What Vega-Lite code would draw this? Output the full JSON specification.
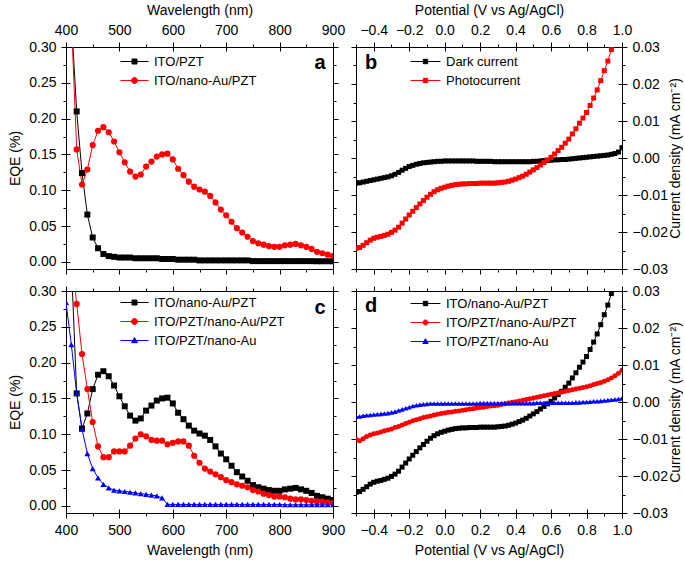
{
"$schema": "https://vega.github.io/schema/vega-lite/v6.json",
"background": "white",
"padding": {"left": 8, "top": 2, "right": 0, "bottom": 0},
"bounds": "flush",
"columns": 2,
"spacing": {"row": 22, "column": 23},
"resolve": {"scale": {"color": "independent"}, "legend": {"color": "independent"}},
"datasets": {
"eqe": [
{"series":"ITO/PZT","nm":410,"eqe":0.34},{"series":"ITO/PZT","nm":420,"eqe":0.21},{"series":"ITO/PZT","nm":430,"eqe":0.124},{"series":"ITO/PZT","nm":440,"eqe":0.066},{"series":"ITO/PZT","nm":450,"eqe":0.034},{"series":"ITO/PZT","nm":460,"eqe":0.019},{"series":"ITO/PZT","nm":470,"eqe":0.011},{"series":"ITO/PZT","nm":480,"eqe":0.008},{"series":"ITO/PZT","nm":490,"eqe":0.007},{"series":"ITO/PZT","nm":500,"eqe":0.006},{"series":"ITO/PZT","nm":510,"eqe":0.006},{"series":"ITO/PZT","nm":520,"eqe":0.006},{"series":"ITO/PZT","nm":530,"eqe":0.005},{"series":"ITO/PZT","nm":540,"eqe":0.005},{"series":"ITO/PZT","nm":550,"eqe":0.005},{"series":"ITO/PZT","nm":560,"eqe":0.005},{"series":"ITO/PZT","nm":570,"eqe":0.005},{"series":"ITO/PZT","nm":580,"eqe":0.004},{"series":"ITO/PZT","nm":590,"eqe":0.004},{"series":"ITO/PZT","nm":600,"eqe":0.004},{"series":"ITO/PZT","nm":610,"eqe":0.003},{"series":"ITO/PZT","nm":620,"eqe":0.003},{"series":"ITO/PZT","nm":630,"eqe":0.003},{"series":"ITO/PZT","nm":640,"eqe":0.003},{"series":"ITO/PZT","nm":650,"eqe":0.002},{"series":"ITO/PZT","nm":660,"eqe":0.002},{"series":"ITO/PZT","nm":670,"eqe":0.002},{"series":"ITO/PZT","nm":680,"eqe":0.002},{"series":"ITO/PZT","nm":690,"eqe":0.002},{"series":"ITO/PZT","nm":700,"eqe":0.002},{"series":"ITO/PZT","nm":710,"eqe":0.002},{"series":"ITO/PZT","nm":720,"eqe":0.002},{"series":"ITO/PZT","nm":730,"eqe":0.002},{"series":"ITO/PZT","nm":740,"eqe":0.002},{"series":"ITO/PZT","nm":750,"eqe":0.001},{"series":"ITO/PZT","nm":760,"eqe":0.001},{"series":"ITO/PZT","nm":770,"eqe":0.001},{"series":"ITO/PZT","nm":780,"eqe":0.001},{"series":"ITO/PZT","nm":790,"eqe":0.001},{"series":"ITO/PZT","nm":800,"eqe":0.001},{"series":"ITO/PZT","nm":810,"eqe":0.001},{"series":"ITO/PZT","nm":820,"eqe":0.001},{"series":"ITO/PZT","nm":830,"eqe":0.001},{"series":"ITO/PZT","nm":840,"eqe":0.001},{"series":"ITO/PZT","nm":850,"eqe":0.001},{"series":"ITO/PZT","nm":860,"eqe":0.001},{"series":"ITO/PZT","nm":870,"eqe":0.0008},{"series":"ITO/PZT","nm":880,"eqe":0.0008},{"series":"ITO/PZT","nm":890,"eqe":0.0008},{"series":"ITO/PZT","nm":900,"eqe":0.0008},
{"series":"ITO/nano-Au/PZT","nm":410,"eqe":0.34},{"series":"ITO/nano-Au/PZT","nm":420,"eqe":0.157},{"series":"ITO/nano-Au/PZT","nm":430,"eqe":0.108},{"series":"ITO/nano-Au/PZT","nm":440,"eqe":0.129},{"series":"ITO/nano-Au/PZT","nm":450,"eqe":0.163},{"series":"ITO/nano-Au/PZT","nm":460,"eqe":0.183},{"series":"ITO/nano-Au/PZT","nm":470,"eqe":0.188},{"series":"ITO/nano-Au/PZT","nm":480,"eqe":0.181},{"series":"ITO/nano-Au/PZT","nm":490,"eqe":0.168},{"series":"ITO/nano-Au/PZT","nm":500,"eqe":0.153},{"series":"ITO/nano-Au/PZT","nm":510,"eqe":0.139},{"series":"ITO/nano-Au/PZT","nm":520,"eqe":0.126},{"series":"ITO/nano-Au/PZT","nm":530,"eqe":0.119},{"series":"ITO/nano-Au/PZT","nm":540,"eqe":0.122},{"series":"ITO/nano-Au/PZT","nm":550,"eqe":0.133},{"series":"ITO/nano-Au/PZT","nm":560,"eqe":0.14},{"series":"ITO/nano-Au/PZT","nm":570,"eqe":0.147},{"series":"ITO/nano-Au/PZT","nm":580,"eqe":0.15},{"series":"ITO/nano-Au/PZT","nm":590,"eqe":0.151},{"series":"ITO/nano-Au/PZT","nm":600,"eqe":0.143},{"series":"ITO/nano-Au/PZT","nm":610,"eqe":0.13},{"series":"ITO/nano-Au/PZT","nm":620,"eqe":0.121},{"series":"ITO/nano-Au/PZT","nm":630,"eqe":0.112},{"series":"ITO/nano-Au/PZT","nm":640,"eqe":0.105},{"series":"ITO/nano-Au/PZT","nm":650,"eqe":0.101},{"series":"ITO/nano-Au/PZT","nm":660,"eqe":0.098},{"series":"ITO/nano-Au/PZT","nm":670,"eqe":0.092},{"series":"ITO/nano-Au/PZT","nm":680,"eqe":0.083},{"series":"ITO/nano-Au/PZT","nm":690,"eqe":0.073},{"series":"ITO/nano-Au/PZT","nm":700,"eqe":0.065},{"series":"ITO/nano-Au/PZT","nm":710,"eqe":0.056},{"series":"ITO/nano-Au/PZT","nm":720,"eqe":0.047},{"series":"ITO/nano-Au/PZT","nm":730,"eqe":0.041},{"series":"ITO/nano-Au/PZT","nm":740,"eqe":0.035},{"series":"ITO/nano-Au/PZT","nm":750,"eqe":0.029},{"series":"ITO/nano-Au/PZT","nm":760,"eqe":0.026},{"series":"ITO/nano-Au/PZT","nm":770,"eqe":0.024},{"series":"ITO/nano-Au/PZT","nm":780,"eqe":0.022},{"series":"ITO/nano-Au/PZT","nm":790,"eqe":0.021},{"series":"ITO/nano-Au/PZT","nm":800,"eqe":0.021},{"series":"ITO/nano-Au/PZT","nm":810,"eqe":0.023},{"series":"ITO/nano-Au/PZT","nm":820,"eqe":0.024},{"series":"ITO/nano-Au/PZT","nm":830,"eqe":0.025},{"series":"ITO/nano-Au/PZT","nm":840,"eqe":0.023},{"series":"ITO/nano-Au/PZT","nm":850,"eqe":0.021},{"series":"ITO/nano-Au/PZT","nm":860,"eqe":0.018},{"series":"ITO/nano-Au/PZT","nm":870,"eqe":0.014},{"series":"ITO/nano-Au/PZT","nm":880,"eqe":0.012},{"series":"ITO/nano-Au/PZT","nm":890,"eqe":0.01},{"series":"ITO/nano-Au/PZT","nm":900,"eqe":0.008},
{"series":"ITO/PZT/nano-Au/PZT","nm":410,"eqe":0.354},{"series":"ITO/PZT/nano-Au/PZT","nm":420,"eqe":0.282},{"series":"ITO/PZT/nano-Au/PZT","nm":430,"eqe":0.212},{"series":"ITO/PZT/nano-Au/PZT","nm":440,"eqe":0.163},{"series":"ITO/PZT/nano-Au/PZT","nm":450,"eqe":0.117},{"series":"ITO/PZT/nano-Au/PZT","nm":460,"eqe":0.083},{"series":"ITO/PZT/nano-Au/PZT","nm":470,"eqe":0.068},{"series":"ITO/PZT/nano-Au/PZT","nm":480,"eqe":0.068},{"series":"ITO/PZT/nano-Au/PZT","nm":490,"eqe":0.076},{"series":"ITO/PZT/nano-Au/PZT","nm":500,"eqe":0.076},{"series":"ITO/PZT/nano-Au/PZT","nm":510,"eqe":0.076},{"series":"ITO/PZT/nano-Au/PZT","nm":520,"eqe":0.084},{"series":"ITO/PZT/nano-Au/PZT","nm":530,"eqe":0.094},{"series":"ITO/PZT/nano-Au/PZT","nm":540,"eqe":0.1},{"series":"ITO/PZT/nano-Au/PZT","nm":550,"eqe":0.097},{"series":"ITO/PZT/nano-Au/PZT","nm":560,"eqe":0.092},{"series":"ITO/PZT/nano-Au/PZT","nm":570,"eqe":0.091},{"series":"ITO/PZT/nano-Au/PZT","nm":580,"eqe":0.091},{"series":"ITO/PZT/nano-Au/PZT","nm":590,"eqe":0.086},{"series":"ITO/PZT/nano-Au/PZT","nm":600,"eqe":0.088},{"series":"ITO/PZT/nano-Au/PZT","nm":610,"eqe":0.09},{"series":"ITO/PZT/nano-Au/PZT","nm":620,"eqe":0.09},{"series":"ITO/PZT/nano-Au/PZT","nm":630,"eqe":0.084},{"series":"ITO/PZT/nano-Au/PZT","nm":640,"eqe":0.07},{"series":"ITO/PZT/nano-Au/PZT","nm":650,"eqe":0.06},{"series":"ITO/PZT/nano-Au/PZT","nm":660,"eqe":0.052},{"series":"ITO/PZT/nano-Au/PZT","nm":670,"eqe":0.048},{"series":"ITO/PZT/nano-Au/PZT","nm":680,"eqe":0.044},{"series":"ITO/PZT/nano-Au/PZT","nm":690,"eqe":0.04},{"series":"ITO/PZT/nano-Au/PZT","nm":700,"eqe":0.036},{"series":"ITO/PZT/nano-Au/PZT","nm":710,"eqe":0.033},{"series":"ITO/PZT/nano-Au/PZT","nm":720,"eqe":0.03},{"series":"ITO/PZT/nano-Au/PZT","nm":730,"eqe":0.028},{"series":"ITO/PZT/nano-Au/PZT","nm":740,"eqe":0.026},{"series":"ITO/PZT/nano-Au/PZT","nm":750,"eqe":0.022},{"series":"ITO/PZT/nano-Au/PZT","nm":760,"eqe":0.02},{"series":"ITO/PZT/nano-Au/PZT","nm":770,"eqe":0.017},{"series":"ITO/PZT/nano-Au/PZT","nm":780,"eqe":0.015},{"series":"ITO/PZT/nano-Au/PZT","nm":790,"eqe":0.013},{"series":"ITO/PZT/nano-Au/PZT","nm":800,"eqe":0.013},{"series":"ITO/PZT/nano-Au/PZT","nm":810,"eqe":0.012},{"series":"ITO/PZT/nano-Au/PZT","nm":820,"eqe":0.01},{"series":"ITO/PZT/nano-Au/PZT","nm":830,"eqe":0.009},{"series":"ITO/PZT/nano-Au/PZT","nm":840,"eqe":0.009},{"series":"ITO/PZT/nano-Au/PZT","nm":850,"eqe":0.008},{"series":"ITO/PZT/nano-Au/PZT","nm":860,"eqe":0.007},{"series":"ITO/PZT/nano-Au/PZT","nm":870,"eqe":0.006},{"series":"ITO/PZT/nano-Au/PZT","nm":880,"eqe":0.006},{"series":"ITO/PZT/nano-Au/PZT","nm":890,"eqe":0.005},{"series":"ITO/PZT/nano-Au/PZT","nm":900,"eqe":0.004},
{"series":"ITO/PZT/nano-Au","nm":400,"eqe":0.284},{"series":"ITO/PZT/nano-Au","nm":410,"eqe":0.225},{"series":"ITO/PZT/nano-Au","nm":420,"eqe":0.157},{"series":"ITO/PZT/nano-Au","nm":430,"eqe":0.107},{"series":"ITO/PZT/nano-Au","nm":440,"eqe":0.073},{"series":"ITO/PZT/nano-Au","nm":450,"eqe":0.052},{"series":"ITO/PZT/nano-Au","nm":460,"eqe":0.039},{"series":"ITO/PZT/nano-Au","nm":470,"eqe":0.03},{"series":"ITO/PZT/nano-Au","nm":480,"eqe":0.025},{"series":"ITO/PZT/nano-Au","nm":490,"eqe":0.022},{"series":"ITO/PZT/nano-Au","nm":500,"eqe":0.021},{"series":"ITO/PZT/nano-Au","nm":510,"eqe":0.02},{"series":"ITO/PZT/nano-Au","nm":520,"eqe":0.019},{"series":"ITO/PZT/nano-Au","nm":530,"eqe":0.018},{"series":"ITO/PZT/nano-Au","nm":540,"eqe":0.017},{"series":"ITO/PZT/nano-Au","nm":550,"eqe":0.016},{"series":"ITO/PZT/nano-Au","nm":560,"eqe":0.015},{"series":"ITO/PZT/nano-Au","nm":570,"eqe":0.014},{"series":"ITO/PZT/nano-Au","nm":580,"eqe":0.011},{"series":"ITO/PZT/nano-Au","nm":590,"eqe":0.002},{"series":"ITO/PZT/nano-Au","nm":600,"eqe":0.002},{"series":"ITO/PZT/nano-Au","nm":610,"eqe":0.002},{"series":"ITO/PZT/nano-Au","nm":620,"eqe":0.002},{"series":"ITO/PZT/nano-Au","nm":630,"eqe":0.002},{"series":"ITO/PZT/nano-Au","nm":640,"eqe":0.002},{"series":"ITO/PZT/nano-Au","nm":650,"eqe":0.002},{"series":"ITO/PZT/nano-Au","nm":660,"eqe":0.002},{"series":"ITO/PZT/nano-Au","nm":670,"eqe":0.002},{"series":"ITO/PZT/nano-Au","nm":680,"eqe":0.002},{"series":"ITO/PZT/nano-Au","nm":690,"eqe":0.002},{"series":"ITO/PZT/nano-Au","nm":700,"eqe":0.002},{"series":"ITO/PZT/nano-Au","nm":710,"eqe":0.002},{"series":"ITO/PZT/nano-Au","nm":720,"eqe":0.002},{"series":"ITO/PZT/nano-Au","nm":730,"eqe":0.002},{"series":"ITO/PZT/nano-Au","nm":740,"eqe":0.002},{"series":"ITO/PZT/nano-Au","nm":750,"eqe":0.002},{"series":"ITO/PZT/nano-Au","nm":760,"eqe":0.002},{"series":"ITO/PZT/nano-Au","nm":770,"eqe":0.002},{"series":"ITO/PZT/nano-Au","nm":780,"eqe":0.002},{"series":"ITO/PZT/nano-Au","nm":790,"eqe":0.002},{"series":"ITO/PZT/nano-Au","nm":800,"eqe":0.002},{"series":"ITO/PZT/nano-Au","nm":810,"eqe":0.0015},{"series":"ITO/PZT/nano-Au","nm":820,"eqe":0.0015},{"series":"ITO/PZT/nano-Au","nm":830,"eqe":0.0015},{"series":"ITO/PZT/nano-Au","nm":840,"eqe":0.0015},{"series":"ITO/PZT/nano-Au","nm":850,"eqe":0.0015},{"series":"ITO/PZT/nano-Au","nm":860,"eqe":0.0015},{"series":"ITO/PZT/nano-Au","nm":870,"eqe":0.0015},{"series":"ITO/PZT/nano-Au","nm":880,"eqe":0.0015},{"series":"ITO/PZT/nano-Au","nm":890,"eqe":0.0015},{"series":"ITO/PZT/nano-Au","nm":900,"eqe":0.0015}
],
"jv": [
{"series":"Dark current","V":-0.5,"J":-0.0068},{"series":"Dark current","V":-0.48,"J":-0.0067},{"series":"Dark current","V":-0.46,"J":-0.0065},{"series":"Dark current","V":-0.44,"J":-0.0063},{"series":"Dark current","V":-0.42,"J":-0.0061},{"series":"Dark current","V":-0.4,"J":-0.0059},{"series":"Dark current","V":-0.38,"J":-0.0057},{"series":"Dark current","V":-0.36,"J":-0.0055},{"series":"Dark current","V":-0.34,"J":-0.0053},{"series":"Dark current","V":-0.32,"J":-0.0051},{"series":"Dark current","V":-0.3,"J":-0.0048},{"series":"Dark current","V":-0.28,"J":-0.0044},{"series":"Dark current","V":-0.26,"J":-0.0039},{"series":"Dark current","V":-0.24,"J":-0.0033},{"series":"Dark current","V":-0.22,"J":-0.0028},{"series":"Dark current","V":-0.2,"J":-0.0023},{"series":"Dark current","V":-0.18,"J":-0.002},{"series":"Dark current","V":-0.16,"J":-0.0017},{"series":"Dark current","V":-0.14,"J":-0.0015},{"series":"Dark current","V":-0.12,"J":-0.0013},{"series":"Dark current","V":-0.1,"J":-0.0012},{"series":"Dark current","V":-0.08,"J":-0.0011},{"series":"Dark current","V":-0.06,"J":-0.001},{"series":"Dark current","V":-0.04,"J":-0.0009},{"series":"Dark current","V":-0.02,"J":-0.0009},{"series":"Dark current","V":0,"J":-0.0008},{"series":"Dark current","V":0.02,"J":-0.0008},{"series":"Dark current","V":0.04,"J":-0.0008},{"series":"Dark current","V":0.06,"J":-0.0008},{"series":"Dark current","V":0.08,"J":-0.0008},{"series":"Dark current","V":0.1,"J":-0.0008},{"series":"Dark current","V":0.12,"J":-0.0008},{"series":"Dark current","V":0.14,"J":-0.0008},{"series":"Dark current","V":0.16,"J":-0.0008},{"series":"Dark current","V":0.18,"J":-0.0009},{"series":"Dark current","V":0.2,"J":-0.0009},{"series":"Dark current","V":0.22,"J":-0.0009},{"series":"Dark current","V":0.24,"J":-0.0009},{"series":"Dark current","V":0.26,"J":-0.0009},{"series":"Dark current","V":0.28,"J":-0.001},{"series":"Dark current","V":0.3,"J":-0.001},{"series":"Dark current","V":0.32,"J":-0.001},{"series":"Dark current","V":0.34,"J":-0.001},{"series":"Dark current","V":0.36,"J":-0.001},{"series":"Dark current","V":0.38,"J":-0.001},{"series":"Dark current","V":0.4,"J":-0.001},{"series":"Dark current","V":0.42,"J":-0.001},{"series":"Dark current","V":0.44,"J":-0.001},{"series":"Dark current","V":0.46,"J":-0.001},{"series":"Dark current","V":0.48,"J":-0.001},{"series":"Dark current","V":0.5,"J":-0.0009},{"series":"Dark current","V":0.52,"J":-0.0009},{"series":"Dark current","V":0.54,"J":-0.0008},{"series":"Dark current","V":0.56,"J":-0.0007},{"series":"Dark current","V":0.58,"J":-0.0007},{"series":"Dark current","V":0.6,"J":-0.0006},{"series":"Dark current","V":0.62,"J":-0.0005},{"series":"Dark current","V":0.64,"J":-0.0005},{"series":"Dark current","V":0.66,"J":-0.0004},{"series":"Dark current","V":0.68,"J":-0.0004},{"series":"Dark current","V":0.7,"J":-0.0003},{"series":"Dark current","V":0.72,"J":-0.0002},{"series":"Dark current","V":0.74,"J":-0.0001},{"series":"Dark current","V":0.76,"J":0},{"series":"Dark current","V":0.78,"J":0.0001},{"series":"Dark current","V":0.8,"J":0.0002},{"series":"Dark current","V":0.82,"J":0.0003},{"series":"Dark current","V":0.84,"J":0.0004},{"series":"Dark current","V":0.86,"J":0.0005},{"series":"Dark current","V":0.88,"J":0.0006},{"series":"Dark current","V":0.9,"J":0.0007},{"series":"Dark current","V":0.92,"J":0.0008},{"series":"Dark current","V":0.94,"J":0.001},{"series":"Dark current","V":0.96,"J":0.0012},{"series":"Dark current","V":0.98,"J":0.0016},{"series":"Dark current","V":1,"J":0.0028},
{"series":"Photocurrent","V":-0.5,"J":-0.0244},{"series":"Photocurrent","V":-0.48,"J":-0.0242},{"series":"Photocurrent","V":-0.46,"J":-0.0236},{"series":"Photocurrent","V":-0.44,"J":-0.0229},{"series":"Photocurrent","V":-0.42,"J":-0.0222},{"series":"Photocurrent","V":-0.4,"J":-0.0217},{"series":"Photocurrent","V":-0.38,"J":-0.0214},{"series":"Photocurrent","V":-0.36,"J":-0.0212},{"series":"Photocurrent","V":-0.34,"J":-0.0209},{"series":"Photocurrent","V":-0.32,"J":-0.0206},{"series":"Photocurrent","V":-0.3,"J":-0.0201},{"series":"Photocurrent","V":-0.28,"J":-0.0195},{"series":"Photocurrent","V":-0.26,"J":-0.0187},{"series":"Photocurrent","V":-0.24,"J":-0.0176},{"series":"Photocurrent","V":-0.22,"J":-0.0165},{"series":"Photocurrent","V":-0.2,"J":-0.0154},{"series":"Photocurrent","V":-0.18,"J":-0.0144},{"series":"Photocurrent","V":-0.16,"J":-0.0134},{"series":"Photocurrent","V":-0.14,"J":-0.0124},{"series":"Photocurrent","V":-0.12,"J":-0.0115},{"series":"Photocurrent","V":-0.1,"J":-0.0106},{"series":"Photocurrent","V":-0.08,"J":-0.0098},{"series":"Photocurrent","V":-0.06,"J":-0.0091},{"series":"Photocurrent","V":-0.04,"J":-0.0086},{"series":"Photocurrent","V":-0.02,"J":-0.0082},{"series":"Photocurrent","V":0,"J":-0.0079},{"series":"Photocurrent","V":0.02,"J":-0.0076},{"series":"Photocurrent","V":0.04,"J":-0.0074},{"series":"Photocurrent","V":0.06,"J":-0.0072},{"series":"Photocurrent","V":0.08,"J":-0.0071},{"series":"Photocurrent","V":0.1,"J":-0.007},{"series":"Photocurrent","V":0.12,"J":-0.007},{"series":"Photocurrent","V":0.14,"J":-0.0069},{"series":"Photocurrent","V":0.16,"J":-0.0069},{"series":"Photocurrent","V":0.18,"J":-0.0069},{"series":"Photocurrent","V":0.2,"J":-0.0068},{"series":"Photocurrent","V":0.22,"J":-0.0068},{"series":"Photocurrent","V":0.24,"J":-0.0068},{"series":"Photocurrent","V":0.26,"J":-0.0068},{"series":"Photocurrent","V":0.28,"J":-0.0068},{"series":"Photocurrent","V":0.3,"J":-0.0067},{"series":"Photocurrent","V":0.32,"J":-0.0066},{"series":"Photocurrent","V":0.34,"J":-0.0065},{"series":"Photocurrent","V":0.36,"J":-0.0063},{"series":"Photocurrent","V":0.38,"J":-0.006},{"series":"Photocurrent","V":0.4,"J":-0.0057},{"series":"Photocurrent","V":0.42,"J":-0.0053},{"series":"Photocurrent","V":0.44,"J":-0.0049},{"series":"Photocurrent","V":0.46,"J":-0.0044},{"series":"Photocurrent","V":0.48,"J":-0.0038},{"series":"Photocurrent","V":0.5,"J":-0.0032},{"series":"Photocurrent","V":0.52,"J":-0.0026},{"series":"Photocurrent","V":0.54,"J":-0.0019},{"series":"Photocurrent","V":0.56,"J":-0.0012},{"series":"Photocurrent","V":0.58,"J":-0.0005},{"series":"Photocurrent","V":0.6,"J":0.0002},{"series":"Photocurrent","V":0.62,"J":0.0011},{"series":"Photocurrent","V":0.64,"J":0.002},{"series":"Photocurrent","V":0.66,"J":0.0029},{"series":"Photocurrent","V":0.68,"J":0.004},{"series":"Photocurrent","V":0.7,"J":0.0051},{"series":"Photocurrent","V":0.72,"J":0.0065},{"series":"Photocurrent","V":0.74,"J":0.0079},{"series":"Photocurrent","V":0.76,"J":0.0094},{"series":"Photocurrent","V":0.78,"J":0.0108},{"series":"Photocurrent","V":0.8,"J":0.0123},{"series":"Photocurrent","V":0.82,"J":0.0142},{"series":"Photocurrent","V":0.84,"J":0.0162},{"series":"Photocurrent","V":0.86,"J":0.0184},{"series":"Photocurrent","V":0.88,"J":0.0209},{"series":"Photocurrent","V":0.9,"J":0.0236},{"series":"Photocurrent","V":0.92,"J":0.0262},{"series":"Photocurrent","V":0.94,"J":0.0293},
{"series":"ITO/nano-Au/PZT","V":-0.5,"J":-0.0244},{"series":"ITO/nano-Au/PZT","V":-0.48,"J":-0.0242},{"series":"ITO/nano-Au/PZT","V":-0.46,"J":-0.0236},{"series":"ITO/nano-Au/PZT","V":-0.44,"J":-0.0229},{"series":"ITO/nano-Au/PZT","V":-0.42,"J":-0.0222},{"series":"ITO/nano-Au/PZT","V":-0.4,"J":-0.0217},{"series":"ITO/nano-Au/PZT","V":-0.38,"J":-0.0214},{"series":"ITO/nano-Au/PZT","V":-0.36,"J":-0.0212},{"series":"ITO/nano-Au/PZT","V":-0.34,"J":-0.0209},{"series":"ITO/nano-Au/PZT","V":-0.32,"J":-0.0206},{"series":"ITO/nano-Au/PZT","V":-0.3,"J":-0.0201},{"series":"ITO/nano-Au/PZT","V":-0.28,"J":-0.0195},{"series":"ITO/nano-Au/PZT","V":-0.26,"J":-0.0187},{"series":"ITO/nano-Au/PZT","V":-0.24,"J":-0.0176},{"series":"ITO/nano-Au/PZT","V":-0.22,"J":-0.0165},{"series":"ITO/nano-Au/PZT","V":-0.2,"J":-0.0154},{"series":"ITO/nano-Au/PZT","V":-0.18,"J":-0.0144},{"series":"ITO/nano-Au/PZT","V":-0.16,"J":-0.0134},{"series":"ITO/nano-Au/PZT","V":-0.14,"J":-0.0124},{"series":"ITO/nano-Au/PZT","V":-0.12,"J":-0.0115},{"series":"ITO/nano-Au/PZT","V":-0.1,"J":-0.0106},{"series":"ITO/nano-Au/PZT","V":-0.08,"J":-0.0098},{"series":"ITO/nano-Au/PZT","V":-0.06,"J":-0.0091},{"series":"ITO/nano-Au/PZT","V":-0.04,"J":-0.0086},{"series":"ITO/nano-Au/PZT","V":-0.02,"J":-0.0082},{"series":"ITO/nano-Au/PZT","V":0,"J":-0.0079},{"series":"ITO/nano-Au/PZT","V":0.02,"J":-0.0076},{"series":"ITO/nano-Au/PZT","V":0.04,"J":-0.0074},{"series":"ITO/nano-Au/PZT","V":0.06,"J":-0.0072},{"series":"ITO/nano-Au/PZT","V":0.08,"J":-0.0071},{"series":"ITO/nano-Au/PZT","V":0.1,"J":-0.007},{"series":"ITO/nano-Au/PZT","V":0.12,"J":-0.007},{"series":"ITO/nano-Au/PZT","V":0.14,"J":-0.0069},{"series":"ITO/nano-Au/PZT","V":0.16,"J":-0.0069},{"series":"ITO/nano-Au/PZT","V":0.18,"J":-0.0069},{"series":"ITO/nano-Au/PZT","V":0.2,"J":-0.0068},{"series":"ITO/nano-Au/PZT","V":0.22,"J":-0.0068},{"series":"ITO/nano-Au/PZT","V":0.24,"J":-0.0068},{"series":"ITO/nano-Au/PZT","V":0.26,"J":-0.0068},{"series":"ITO/nano-Au/PZT","V":0.28,"J":-0.0068},{"series":"ITO/nano-Au/PZT","V":0.3,"J":-0.0067},{"series":"ITO/nano-Au/PZT","V":0.32,"J":-0.0066},{"series":"ITO/nano-Au/PZT","V":0.34,"J":-0.0065},{"series":"ITO/nano-Au/PZT","V":0.36,"J":-0.0063},{"series":"ITO/nano-Au/PZT","V":0.38,"J":-0.006},{"series":"ITO/nano-Au/PZT","V":0.4,"J":-0.0057},{"series":"ITO/nano-Au/PZT","V":0.42,"J":-0.0053},{"series":"ITO/nano-Au/PZT","V":0.44,"J":-0.0049},{"series":"ITO/nano-Au/PZT","V":0.46,"J":-0.0044},{"series":"ITO/nano-Au/PZT","V":0.48,"J":-0.0038},{"series":"ITO/nano-Au/PZT","V":0.5,"J":-0.0032},{"series":"ITO/nano-Au/PZT","V":0.52,"J":-0.0026},{"series":"ITO/nano-Au/PZT","V":0.54,"J":-0.0019},{"series":"ITO/nano-Au/PZT","V":0.56,"J":-0.0012},{"series":"ITO/nano-Au/PZT","V":0.58,"J":-0.0005},{"series":"ITO/nano-Au/PZT","V":0.6,"J":0.0002},{"series":"ITO/nano-Au/PZT","V":0.62,"J":0.0011},{"series":"ITO/nano-Au/PZT","V":0.64,"J":0.002},{"series":"ITO/nano-Au/PZT","V":0.66,"J":0.0029},{"series":"ITO/nano-Au/PZT","V":0.68,"J":0.004},{"series":"ITO/nano-Au/PZT","V":0.7,"J":0.0051},{"series":"ITO/nano-Au/PZT","V":0.72,"J":0.0065},{"series":"ITO/nano-Au/PZT","V":0.74,"J":0.0079},{"series":"ITO/nano-Au/PZT","V":0.76,"J":0.0094},{"series":"ITO/nano-Au/PZT","V":0.78,"J":0.0108},{"series":"ITO/nano-Au/PZT","V":0.8,"J":0.0123},{"series":"ITO/nano-Au/PZT","V":0.82,"J":0.0142},{"series":"ITO/nano-Au/PZT","V":0.84,"J":0.0162},{"series":"ITO/nano-Au/PZT","V":0.86,"J":0.0184},{"series":"ITO/nano-Au/PZT","V":0.88,"J":0.0209},{"series":"ITO/nano-Au/PZT","V":0.9,"J":0.0236},{"series":"ITO/nano-Au/PZT","V":0.92,"J":0.0262},{"series":"ITO/nano-Au/PZT","V":0.94,"J":0.0293},
{"series":"ITO/PZT/nano-Au/PZT","V":-0.5,"J":-0.01},{"series":"ITO/PZT/nano-Au/PZT","V":-0.48,"J":-0.0105},{"series":"ITO/PZT/nano-Au/PZT","V":-0.46,"J":-0.0099},{"series":"ITO/PZT/nano-Au/PZT","V":-0.44,"J":-0.0093},{"series":"ITO/PZT/nano-Au/PZT","V":-0.42,"J":-0.0089},{"series":"ITO/PZT/nano-Au/PZT","V":-0.4,"J":-0.0086},{"series":"ITO/PZT/nano-Au/PZT","V":-0.38,"J":-0.0084},{"series":"ITO/PZT/nano-Au/PZT","V":-0.36,"J":-0.0081},{"series":"ITO/PZT/nano-Au/PZT","V":-0.34,"J":-0.0078},{"series":"ITO/PZT/nano-Au/PZT","V":-0.32,"J":-0.0076},{"series":"ITO/PZT/nano-Au/PZT","V":-0.3,"J":-0.0073},{"series":"ITO/PZT/nano-Au/PZT","V":-0.28,"J":-0.0069},{"series":"ITO/PZT/nano-Au/PZT","V":-0.26,"J":-0.0066},{"series":"ITO/PZT/nano-Au/PZT","V":-0.24,"J":-0.0062},{"series":"ITO/PZT/nano-Au/PZT","V":-0.22,"J":-0.0058},{"series":"ITO/PZT/nano-Au/PZT","V":-0.2,"J":-0.0055},{"series":"ITO/PZT/nano-Au/PZT","V":-0.18,"J":-0.0051},{"series":"ITO/PZT/nano-Au/PZT","V":-0.16,"J":-0.0048},{"series":"ITO/PZT/nano-Au/PZT","V":-0.14,"J":-0.0045},{"series":"ITO/PZT/nano-Au/PZT","V":-0.12,"J":-0.0042},{"series":"ITO/PZT/nano-Au/PZT","V":-0.1,"J":-0.004},{"series":"ITO/PZT/nano-Au/PZT","V":-0.08,"J":-0.0038},{"series":"ITO/PZT/nano-Au/PZT","V":-0.06,"J":-0.0035},{"series":"ITO/PZT/nano-Au/PZT","V":-0.04,"J":-0.0033},{"series":"ITO/PZT/nano-Au/PZT","V":-0.02,"J":-0.0031},{"series":"ITO/PZT/nano-Au/PZT","V":0,"J":-0.003},{"series":"ITO/PZT/nano-Au/PZT","V":0.02,"J":-0.0028},{"series":"ITO/PZT/nano-Au/PZT","V":0.04,"J":-0.0027},{"series":"ITO/PZT/nano-Au/PZT","V":0.06,"J":-0.0025},{"series":"ITO/PZT/nano-Au/PZT","V":0.08,"J":-0.0024},{"series":"ITO/PZT/nano-Au/PZT","V":0.1,"J":-0.0022},{"series":"ITO/PZT/nano-Au/PZT","V":0.12,"J":-0.0021},{"series":"ITO/PZT/nano-Au/PZT","V":0.14,"J":-0.0019},{"series":"ITO/PZT/nano-Au/PZT","V":0.16,"J":-0.0018},{"series":"ITO/PZT/nano-Au/PZT","V":0.18,"J":-0.0016},{"series":"ITO/PZT/nano-Au/PZT","V":0.2,"J":-0.0015},{"series":"ITO/PZT/nano-Au/PZT","V":0.22,"J":-0.0014},{"series":"ITO/PZT/nano-Au/PZT","V":0.24,"J":-0.0012},{"series":"ITO/PZT/nano-Au/PZT","V":0.26,"J":-0.0011},{"series":"ITO/PZT/nano-Au/PZT","V":0.28,"J":-0.001},{"series":"ITO/PZT/nano-Au/PZT","V":0.3,"J":-0.0009},{"series":"ITO/PZT/nano-Au/PZT","V":0.32,"J":-0.0007},{"series":"ITO/PZT/nano-Au/PZT","V":0.34,"J":-0.0005},{"series":"ITO/PZT/nano-Au/PZT","V":0.36,"J":-0.0003},{"series":"ITO/PZT/nano-Au/PZT","V":0.38,"J":-0.0001},{"series":"ITO/PZT/nano-Au/PZT","V":0.4,"J":0.0001},{"series":"ITO/PZT/nano-Au/PZT","V":0.42,"J":0.0003},{"series":"ITO/PZT/nano-Au/PZT","V":0.44,"J":0.0005},{"series":"ITO/PZT/nano-Au/PZT","V":0.46,"J":0.0007},{"series":"ITO/PZT/nano-Au/PZT","V":0.48,"J":0.0009},{"series":"ITO/PZT/nano-Au/PZT","V":0.5,"J":0.0011},{"series":"ITO/PZT/nano-Au/PZT","V":0.52,"J":0.0013},{"series":"ITO/PZT/nano-Au/PZT","V":0.54,"J":0.0015},{"series":"ITO/PZT/nano-Au/PZT","V":0.56,"J":0.0017},{"series":"ITO/PZT/nano-Au/PZT","V":0.58,"J":0.0019},{"series":"ITO/PZT/nano-Au/PZT","V":0.6,"J":0.0021},{"series":"ITO/PZT/nano-Au/PZT","V":0.62,"J":0.0023},{"series":"ITO/PZT/nano-Au/PZT","V":0.64,"J":0.0025},{"series":"ITO/PZT/nano-Au/PZT","V":0.66,"J":0.0027},{"series":"ITO/PZT/nano-Au/PZT","V":0.68,"J":0.0029},{"series":"ITO/PZT/nano-Au/PZT","V":0.7,"J":0.0031},{"series":"ITO/PZT/nano-Au/PZT","V":0.72,"J":0.0033},{"series":"ITO/PZT/nano-Au/PZT","V":0.74,"J":0.0035},{"series":"ITO/PZT/nano-Au/PZT","V":0.76,"J":0.0037},{"series":"ITO/PZT/nano-Au/PZT","V":0.78,"J":0.0039},{"series":"ITO/PZT/nano-Au/PZT","V":0.8,"J":0.0041},{"series":"ITO/PZT/nano-Au/PZT","V":0.82,"J":0.0044},{"series":"ITO/PZT/nano-Au/PZT","V":0.84,"J":0.0047},{"series":"ITO/PZT/nano-Au/PZT","V":0.86,"J":0.005},{"series":"ITO/PZT/nano-Au/PZT","V":0.88,"J":0.0053},{"series":"ITO/PZT/nano-Au/PZT","V":0.9,"J":0.0056},{"series":"ITO/PZT/nano-Au/PZT","V":0.92,"J":0.006},{"series":"ITO/PZT/nano-Au/PZT","V":0.94,"J":0.0065},{"series":"ITO/PZT/nano-Au/PZT","V":0.96,"J":0.0071},{"series":"ITO/PZT/nano-Au/PZT","V":0.98,"J":0.0078},{"series":"ITO/PZT/nano-Au/PZT","V":1,"J":0.0086},
{"series":"ITO/PZT/nano-Au","V":-0.5,"J":-0.004},{"series":"ITO/PZT/nano-Au","V":-0.48,"J":-0.0039},{"series":"ITO/PZT/nano-Au","V":-0.46,"J":-0.0037},{"series":"ITO/PZT/nano-Au","V":-0.44,"J":-0.0036},{"series":"ITO/PZT/nano-Au","V":-0.42,"J":-0.0035},{"series":"ITO/PZT/nano-Au","V":-0.4,"J":-0.0034},{"series":"ITO/PZT/nano-Au","V":-0.38,"J":-0.0033},{"series":"ITO/PZT/nano-Au","V":-0.36,"J":-0.0032},{"series":"ITO/PZT/nano-Au","V":-0.34,"J":-0.0031},{"series":"ITO/PZT/nano-Au","V":-0.32,"J":-0.003},{"series":"ITO/PZT/nano-Au","V":-0.3,"J":-0.0028},{"series":"ITO/PZT/nano-Au","V":-0.28,"J":-0.0026},{"series":"ITO/PZT/nano-Au","V":-0.26,"J":-0.0023},{"series":"ITO/PZT/nano-Au","V":-0.24,"J":-0.002},{"series":"ITO/PZT/nano-Au","V":-0.22,"J":-0.0017},{"series":"ITO/PZT/nano-Au","V":-0.2,"J":-0.0014},{"series":"ITO/PZT/nano-Au","V":-0.18,"J":-0.0011},{"series":"ITO/PZT/nano-Au","V":-0.16,"J":-0.0009},{"series":"ITO/PZT/nano-Au","V":-0.14,"J":-0.0007},{"series":"ITO/PZT/nano-Au","V":-0.12,"J":-0.0006},{"series":"ITO/PZT/nano-Au","V":-0.1,"J":-0.0005},{"series":"ITO/PZT/nano-Au","V":-0.08,"J":-0.0004},{"series":"ITO/PZT/nano-Au","V":-0.06,"J":-0.0004},{"series":"ITO/PZT/nano-Au","V":-0.04,"J":-0.0004},{"series":"ITO/PZT/nano-Au","V":-0.02,"J":-0.0004},{"series":"ITO/PZT/nano-Au","V":0,"J":-0.0004},{"series":"ITO/PZT/nano-Au","V":0.02,"J":-0.0004},{"series":"ITO/PZT/nano-Au","V":0.04,"J":-0.0004},{"series":"ITO/PZT/nano-Au","V":0.06,"J":-0.0004},{"series":"ITO/PZT/nano-Au","V":0.08,"J":-0.0004},{"series":"ITO/PZT/nano-Au","V":0.1,"J":-0.0004},{"series":"ITO/PZT/nano-Au","V":0.12,"J":-0.0004},{"series":"ITO/PZT/nano-Au","V":0.14,"J":-0.0004},{"series":"ITO/PZT/nano-Au","V":0.16,"J":-0.0004},{"series":"ITO/PZT/nano-Au","V":0.18,"J":-0.0004},{"series":"ITO/PZT/nano-Au","V":0.2,"J":-0.0003},{"series":"ITO/PZT/nano-Au","V":0.22,"J":-0.0003},{"series":"ITO/PZT/nano-Au","V":0.24,"J":-0.0003},{"series":"ITO/PZT/nano-Au","V":0.26,"J":-0.0003},{"series":"ITO/PZT/nano-Au","V":0.28,"J":-0.0003},{"series":"ITO/PZT/nano-Au","V":0.3,"J":-0.0003},{"series":"ITO/PZT/nano-Au","V":0.32,"J":-0.0003},{"series":"ITO/PZT/nano-Au","V":0.34,"J":-0.0003},{"series":"ITO/PZT/nano-Au","V":0.36,"J":-0.0003},{"series":"ITO/PZT/nano-Au","V":0.38,"J":-0.0003},{"series":"ITO/PZT/nano-Au","V":0.4,"J":-0.0003},{"series":"ITO/PZT/nano-Au","V":0.42,"J":-0.0003},{"series":"ITO/PZT/nano-Au","V":0.44,"J":-0.0003},{"series":"ITO/PZT/nano-Au","V":0.46,"J":-0.0003},{"series":"ITO/PZT/nano-Au","V":0.48,"J":-0.0003},{"series":"ITO/PZT/nano-Au","V":0.5,"J":-0.0003},{"series":"ITO/PZT/nano-Au","V":0.52,"J":-0.0002},{"series":"ITO/PZT/nano-Au","V":0.54,"J":-0.0002},{"series":"ITO/PZT/nano-Au","V":0.56,"J":-0.0002},{"series":"ITO/PZT/nano-Au","V":0.58,"J":-0.0002},{"series":"ITO/PZT/nano-Au","V":0.6,"J":-0.0002},{"series":"ITO/PZT/nano-Au","V":0.62,"J":-0.0002},{"series":"ITO/PZT/nano-Au","V":0.64,"J":-0.0002},{"series":"ITO/PZT/nano-Au","V":0.66,"J":-0.0002},{"series":"ITO/PZT/nano-Au","V":0.68,"J":-0.0002},{"series":"ITO/PZT/nano-Au","V":0.7,"J":-0.0002},{"series":"ITO/PZT/nano-Au","V":0.72,"J":-0.0002},{"series":"ITO/PZT/nano-Au","V":0.74,"J":-0.0001},{"series":"ITO/PZT/nano-Au","V":0.76,"J":-0.0001},{"series":"ITO/PZT/nano-Au","V":0.78,"J":0},{"series":"ITO/PZT/nano-Au","V":0.8,"J":0},{"series":"ITO/PZT/nano-Au","V":0.82,"J":0.0001},{"series":"ITO/PZT/nano-Au","V":0.84,"J":0.0002},{"series":"ITO/PZT/nano-Au","V":0.86,"J":0.0002},{"series":"ITO/PZT/nano-Au","V":0.88,"J":0.0003},{"series":"ITO/PZT/nano-Au","V":0.9,"J":0.0004},{"series":"ITO/PZT/nano-Au","V":0.92,"J":0.0005},{"series":"ITO/PZT/nano-Au","V":0.94,"J":0.0006},{"series":"ITO/PZT/nano-Au","V":0.96,"J":0.0007},{"series":"ITO/PZT/nano-Au","V":0.98,"J":0.0008},{"series":"ITO/PZT/nano-Au","V":1,"J":0.001}
]
},
"concat": [
{
"width": 267, "height": 222,
"resolve": {"axis": {"x": "independent", "y": "independent"}},
"encoding": {
"color": {"field": "series", "type": "nominal", "scale": {"domain": ["ITO/PZT", "ITO/nano-Au/PZT"], "range": ["#000000", "#ff0000"]},
"legend": {"title": null, "orient": "none", "legendX": 58, "legendY": 4, "labelOffset": 9,
"encode": {"symbols": {"update": {
"shape": {"signal": "datum.value === 'ITO/PZT' ? 'M-1.4,0H1.4M-0.25,-0.25H0.25V0.25H-0.25Z' : 'M-1.4,0H1.4M0.3,0A0.3,0.3,0,1,1,-0.3,0A0.3,0.3,0,1,1,0.3,0'"},
"fill": {"signal": "datum.value === 'ITO/PZT' ? '#000000' : '#ff0000'"},
"stroke": {"signal": "datum.value === 'ITO/PZT' ? '#000000' : '#ff0000'"},
"strokeWidth": {"value": 1}, "opacity": {"value": 1}}}}}}
},
"layer": [
{"data": {"name": "eqe"}, "transform": [{"filter": {"field": "series", "oneOf": ["ITO/PZT", "ITO/nano-Au/PZT"]}}],
"mark": {"type": "line", "strokeWidth": 1, "clip": true},
"encoding": {
"x": {"field": "nm", "type": "quantitative", "scale": {"domain": [400, 900], "nice": false, "zero": false},
"axis": {"orient": "top", "title": "Wavelength (nm)", "values": [400,450,500,550,600,650,700,750,800,850,900], "format": "d", "labelExpr": "datum.value % 100 === 0 ? datum.label : ''", "tickSize": {"condition": {"test": "datum.value % 100 === 0", "value": 5}, "value": 3}}},
"y": {"field": "eqe", "type": "quantitative", "scale": {"domain": [-0.01, 0.3], "nice": false, "zero": false},
"axis": {"orient": "left", "title": "EQE (%)", "values": [0,0.025,0.05,0.075,0.1,0.125,0.15,0.175,0.2,0.225,0.25,0.275,0.3], "format": ".2f", "labelExpr": "abs(datum.value*20 - round(datum.value*20)) < 1e-6 ? datum.label : ''", "tickSize": {"condition": {"test": "abs(datum.value*20 - round(datum.value*20)) < 1e-6", "value": 5}, "value": 3}}}
}},
{"data": {"name": "eqe"}, "transform": [{"filter": {"field": "series", "equal": "ITO/PZT"}}],
"mark": {"type": "point", "filled": true, "opacity": 1, "size": 36, "shape": "square", "clip": true},
"encoding": {
"x": {"field": "nm", "type": "quantitative", "axis": {"orient": "bottom", "title": null, "labels": false, "values": [400,450,500,550,600,650,700,750,800,850,900], "tickSize": {"condition": {"test": "datum.value % 100 === 0", "value": 5}, "value": 3}}},
"y": {"field": "eqe", "type": "quantitative", "axis": {"orient": "right", "title": null, "labels": false, "values": [0,0.025,0.05,0.075,0.1,0.125,0.15,0.175,0.2,0.225,0.25,0.275,0.3], "tickSize": {"condition": {"test": "abs(datum.value*20 - round(datum.value*20)) < 1e-6", "value": 5}, "value": 3}}}
}},
{"data": {"name": "eqe"}, "transform": [{"filter": {"field": "series", "equal": "ITO/nano-Au/PZT"}}],
"mark": {"type": "point", "filled": true, "opacity": 1, "size": 38, "shape": "circle", "clip": true},
"encoding": {
"x": {"field": "nm", "type": "quantitative", "axis": null},
"y": {"field": "eqe", "type": "quantitative", "axis": null}
}},
{"data": {"values": [{}]},
"mark": {"type": "text", "fontSize": 20, "fontWeight": "bold", "font": "Liberation Sans", "align": "center", "baseline": "alphabetic"},
"encoding": {
"x": {"datum": 875.6, "type": "quantitative", "axis": {"orient": "top", "title": null, "labels": false, "values": [400,500,600,700,800,900], "tickSize": -4}},
"y": {"datum": 0.2693, "type": "quantitative", "axis": {"orient": "left", "title": null, "labels": false, "values": [0,0.05,0.1,0.15,0.2,0.25,0.3], "tickSize": -4}},
"text": {"value": "a"}, "color": {"value": "#000000"}
}}
]
},
{
"width": 266, "height": 222,
"resolve": {"axis": {"x": "independent", "y": "independent"}},
"encoding": {
"color": {"field": "series", "type": "nominal", "scale": {"domain": ["Dark current", "Photocurrent"], "range": ["#000000", "#ff0000"]},
"legend": {"title": null, "orient": "none", "legendX": 59, "legendY": 4, "labelOffset": 10,
"encode": {"symbols": {"update": {
"shape": {"value": "M-1.5,0H1.5M-0.22,-0.22H0.22V0.22H-0.22Z"},
"fill": {"signal": "datum.value === 'Dark current' ? '#000000' : '#ff0000'"},
"stroke": {"signal": "datum.value === 'Dark current' ? '#000000' : '#ff0000'"},
"strokeWidth": {"value": 1}, "opacity": {"value": 1}}}}}}
},
"layer": [
{"data": {"name": "jv"}, "transform": [{"filter": {"field": "series", "oneOf": ["Dark current", "Photocurrent"]}}],
"mark": {"type": "line", "strokeWidth": 1, "clip": true},
"encoding": {
"x": {"field": "V", "type": "quantitative", "scale": {"domain": [-0.5, 1.0], "nice": false, "zero": false},
"axis": {"orient": "top", "title": "Potential (V vs Ag/AgCl)", "values": [-0.5,-0.4,-0.3,-0.2,-0.1,0,0.1,0.2,0.3,0.4,0.5,0.6,0.7,0.8,0.9,1], "format": ".1f", "labelExpr": "abs(datum.value*5 - round(datum.value*5)) < 1e-6 ? datum.label : ''", "tickSize": {"condition": {"test": "abs(datum.value*5 - round(datum.value*5)) < 1e-6", "value": 5}, "value": 3}}},
"y": {"field": "J", "type": "quantitative", "scale": {"domain": [-0.03, 0.03], "nice": false, "zero": false},
"axis": {"orient": "right", "title": "Current density (mA cm\u207B\u00B2)", "titleAngle": 270, "titleBaseline": "top", "titlePadding": 1, "values": [-0.03,-0.025,-0.02,-0.015,-0.01,-0.005,0,0.005,0.01,0.015,0.02,0.025,0.03], "format": ".2f", "labelExpr": "abs(datum.value*100 - round(datum.value*100)) < 1e-6 ? datum.label : ''", "tickSize": {"condition": {"test": "abs(datum.value*100 - round(datum.value*100)) < 1e-6", "value": 5}, "value": 3}}}
}},
{"data": {"name": "jv"}, "transform": [{"filter": {"field": "series", "oneOf": ["Dark current", "Photocurrent"]}}],
"mark": {"type": "point", "filled": true, "opacity": 1, "size": 25, "shape": "square", "clip": true},
"encoding": {
"x": {"field": "V", "type": "quantitative", "axis": {"orient": "bottom", "title": null, "labels": false, "values": [-0.5,-0.4,-0.3,-0.2,-0.1,0,0.1,0.2,0.3,0.4,0.5,0.6,0.7,0.8,0.9,1], "tickSize": {"condition": {"test": "abs(datum.value*5 - round(datum.value*5)) < 1e-6", "value": 5}, "value": 3}}},
"y": {"field": "J", "type": "quantitative", "axis": {"orient": "left", "title": null, "labels": false, "values": [-0.03,-0.025,-0.02,-0.015,-0.01,-0.005,0,0.005,0.01,0.015,0.02,0.025,0.03], "tickSize": {"condition": {"test": "abs(datum.value*100 - round(datum.value*100)) < 1e-6", "value": 5}, "value": 3}}}
}},
{"data": {"values": [{}]},
"mark": {"type": "text", "fontSize": 20, "fontWeight": "bold", "font": "Liberation Sans", "align": "center", "baseline": "alphabetic"},
"encoding": {
"x": {"datum": -0.415, "type": "quantitative", "axis": {"orient": "top", "title": null, "labels": false, "values": [-0.4,-0.2,0,0.2,0.4,0.6,0.8,1], "tickSize": -4}},
"y": {"datum": 0.02405, "type": "quantitative", "axis": {"orient": "right", "title": null, "labels": false, "values": [-0.03,-0.02,-0.01,0,0.01,0.02,0.03], "tickSize": -4}},
"text": {"value": "b"}, "color": {"value": "#000000"}
}}
]
},
{
"width": 267, "height": 222,
"resolve": {"axis": {"x": "independent", "y": "independent"}},
"encoding": {
"color": {"field": "series", "type": "nominal", "scale": {"domain": ["ITO/nano-Au/PZT", "ITO/PZT/nano-Au/PZT", "ITO/PZT/nano-Au"], "range": ["#000000", "#ff0000", "#0000ff"]},
"legend": {"title": null, "orient": "none", "legendX": 58, "legendY": 1, "labelOffset": 9,
"encode": {"symbols": {"update": {
"shape": {"signal": "datum.value === 'ITO/nano-Au/PZT' ? 'M-1.4,0H1.4M-0.25,-0.25H0.25V0.25H-0.25Z' : datum.value === 'ITO/PZT/nano-Au/PZT' ? 'M-1.4,0H1.4M0.3,0A0.3,0.3,0,1,1,-0.3,0A0.3,0.3,0,1,1,0.3,0' : 'M-1.4,0H1.4M0,-0.3L0.3,0.22H-0.3Z'"},
"fill": {"signal": "datum.value === 'ITO/nano-Au/PZT' ? '#000000' : datum.value === 'ITO/PZT/nano-Au/PZT' ? '#ff0000' : '#0000ff'"},
"stroke": {"signal": "datum.value === 'ITO/nano-Au/PZT' ? '#000000' : datum.value === 'ITO/PZT/nano-Au/PZT' ? '#ff0000' : '#0000ff'"},
"strokeWidth": {"value": 1}, "opacity": {"value": 1}}}}}}
},
"layer": [
{"data": {"name": "eqe"}, "transform": [{"filter": {"field": "series", "oneOf": ["ITO/nano-Au/PZT", "ITO/PZT/nano-Au/PZT", "ITO/PZT/nano-Au"]}}],
"mark": {"type": "line", "strokeWidth": 1, "clip": true},
"encoding": {
"x": {"field": "nm", "type": "quantitative", "scale": {"domain": [400, 900], "nice": false, "zero": false},
"axis": {"orient": "bottom", "title": "Wavelength (nm)", "values": [400,450,500,550,600,650,700,750,800,850,900], "format": "d", "labelExpr": "datum.value % 100 === 0 ? datum.label : ''", "tickSize": {"condition": {"test": "datum.value % 100 === 0", "value": 5}, "value": 3}}},
"y": {"field": "eqe", "type": "quantitative", "scale": {"domain": [-0.01, 0.3], "nice": false, "zero": false},
"axis": {"orient": "left", "title": "EQE (%)", "values": [0,0.025,0.05,0.075,0.1,0.125,0.15,0.175,0.2,0.225,0.25,0.275,0.3], "format": ".2f", "labelExpr": "abs(datum.value*20 - round(datum.value*20)) < 1e-6 ? datum.label : ''", "tickSize": {"condition": {"test": "abs(datum.value*20 - round(datum.value*20)) < 1e-6", "value": 5}, "value": 3}}}
}},
{"data": {"name": "eqe"}, "transform": [{"filter": {"field": "series", "equal": "ITO/nano-Au/PZT"}}],
"mark": {"type": "point", "filled": true, "opacity": 1, "size": 36, "shape": "square", "clip": true},
"encoding": {
"x": {"field": "nm", "type": "quantitative", "axis": {"orient": "top", "title": null, "labels": false, "values": [400,450,500,550,600,650,700,750,800,850,900], "tickSize": {"condition": {"test": "datum.value % 100 === 0", "value": 5}, "value": 3}}},
"y": {"field": "eqe", "type": "quantitative", "axis": {"orient": "right", "title": null, "labels": false, "values": [0,0.025,0.05,0.075,0.1,0.125,0.15,0.175,0.2,0.225,0.25,0.275,0.3], "tickSize": {"condition": {"test": "abs(datum.value*20 - round(datum.value*20)) < 1e-6", "value": 5}, "value": 3}}}
}},
{"data": {"name": "eqe"}, "transform": [{"filter": {"field": "series", "equal": "ITO/PZT/nano-Au/PZT"}}],
"mark": {"type": "point", "filled": true, "opacity": 1, "size": 38, "shape": "circle", "clip": true},
"encoding": {
"x": {"field": "nm", "type": "quantitative", "axis": null},
"y": {"field": "eqe", "type": "quantitative", "axis": null}
}},
{"data": {"name": "eqe"}, "transform": [{"filter": {"field": "series", "equal": "ITO/PZT/nano-Au"}}],
"mark": {"type": "point", "filled": true, "opacity": 1, "size": 36, "shape": "triangle-up", "clip": true},
"encoding": {
"x": {"field": "nm", "type": "quantitative", "axis": null},
"y": {"field": "eqe", "type": "quantitative", "axis": null}
}},
{"data": {"values": [{}]},
"mark": {"type": "text", "fontSize": 20, "fontWeight": "bold", "font": "Liberation Sans", "align": "center", "baseline": "alphabetic"},
"encoding": {
"x": {"datum": 875.6, "type": "quantitative", "axis": {"orient": "bottom", "title": null, "labels": false, "values": [400,500,600,700,800,900], "tickSize": -4}},
"y": {"datum": 0.2679, "type": "quantitative", "axis": {"orient": "left", "title": null, "labels": false, "values": [0,0.05,0.1,0.15,0.2,0.25,0.3], "tickSize": -4}},
"text": {"value": "c"}, "color": {"value": "#000000"}
}}
]
},
{
"width": 266, "height": 222,
"resolve": {"axis": {"x": "independent", "y": "independent"}},
"encoding": {
"color": {"field": "series", "type": "nominal", "scale": {"domain": ["ITO/nano-Au/PZT", "ITO/PZT/nano-Au/PZT", "ITO/PZT/nano-Au"], "range": ["#000000", "#ff0000", "#0000ff"]},
"legend": {"title": null, "orient": "none", "legendX": 59, "legendY": 2, "labelOffset": 10,
"encode": {"symbols": {"update": {
"shape": {"signal": "datum.value === 'ITO/nano-Au/PZT' ? 'M-1.5,0H1.5M-0.22,-0.22H0.22V0.22H-0.22Z' : datum.value === 'ITO/PZT/nano-Au/PZT' ? 'M-1.5,0H1.5M0.25,0A0.25,0.25,0,1,1,-0.25,0A0.25,0.25,0,1,1,0.25,0' : 'M-1.5,0H1.5M0,-0.28L0.27,0.2H-0.27Z'"},
"fill": {"signal": "datum.value === 'ITO/nano-Au/PZT' ? '#000000' : datum.value === 'ITO/PZT/nano-Au/PZT' ? '#ff0000' : '#0000ff'"},
"stroke": {"signal": "datum.value === 'ITO/nano-Au/PZT' ? '#000000' : datum.value === 'ITO/PZT/nano-Au/PZT' ? '#ff0000' : '#0000ff'"},
"strokeWidth": {"value": 1}, "opacity": {"value": 1}}}}}}
},
"layer": [
{"data": {"name": "jv"}, "transform": [{"filter": {"field": "series", "oneOf": ["ITO/nano-Au/PZT", "ITO/PZT/nano-Au/PZT", "ITO/PZT/nano-Au"]}}],
"mark": {"type": "line", "strokeWidth": 1, "clip": true},
"encoding": {
"x": {"field": "V", "type": "quantitative", "scale": {"domain": [-0.5, 1.0], "nice": false, "zero": false},
"axis": {"orient": "bottom", "title": "Potential (V vs Ag/AgCl)", "values": [-0.5,-0.4,-0.3,-0.2,-0.1,0,0.1,0.2,0.3,0.4,0.5,0.6,0.7,0.8,0.9,1], "format": ".1f", "labelExpr": "abs(datum.value*5 - round(datum.value*5)) < 1e-6 ? datum.label : ''", "tickSize": {"condition": {"test": "abs(datum.value*5 - round(datum.value*5)) < 1e-6", "value": 5}, "value": 3}}},
"y": {"field": "J", "type": "quantitative", "scale": {"domain": [-0.03, 0.03], "nice": false, "zero": false},
"axis": {"orient": "right", "title": "Current density (mA cm\u207B\u00B2)", "titleAngle": 270, "titleBaseline": "top", "titlePadding": 1, "values": [-0.03,-0.025,-0.02,-0.015,-0.01,-0.005,0,0.005,0.01,0.015,0.02,0.025,0.03], "format": ".2f", "labelExpr": "abs(datum.value*100 - round(datum.value*100)) < 1e-6 ? datum.label : ''", "tickSize": {"condition": {"test": "abs(datum.value*100 - round(datum.value*100)) < 1e-6", "value": 5}, "value": 3}}}
}},
{"data": {"name": "jv"}, "transform": [{"filter": {"field": "series", "equal": "ITO/nano-Au/PZT"}}],
"mark": {"type": "point", "filled": true, "opacity": 1, "size": 25, "shape": "square", "clip": true},
"encoding": {
"x": {"field": "V", "type": "quantitative", "axis": {"orient": "top", "title": null, "labels": false, "values": [-0.5,-0.4,-0.3,-0.2,-0.1,0,0.1,0.2,0.3,0.4,0.5,0.6,0.7,0.8,0.9,1], "tickSize": {"condition": {"test": "abs(datum.value*5 - round(datum.value*5)) < 1e-6", "value": 5}, "value": 3}}},
"y": {"field": "J", "type": "quantitative", "axis": {"orient": "left", "title": null, "labels": false, "values": [-0.03,-0.025,-0.02,-0.015,-0.01,-0.005,0,0.005,0.01,0.015,0.02,0.025,0.03], "tickSize": {"condition": {"test": "abs(datum.value*100 - round(datum.value*100)) < 1e-6", "value": 5}, "value": 3}}}
}},
{"data": {"name": "jv"}, "transform": [{"filter": {"field": "series", "equal": "ITO/PZT/nano-Au/PZT"}}],
"mark": {"type": "point", "filled": true, "opacity": 1, "size": 25, "shape": "circle", "clip": true},
"encoding": {
"x": {"field": "V", "type": "quantitative", "axis": null},
"y": {"field": "J", "type": "quantitative", "axis": null}
}},
{"data": {"name": "jv"}, "transform": [{"filter": {"field": "series", "equal": "ITO/PZT/nano-Au"}}],
"mark": {"type": "point", "filled": true, "opacity": 1, "size": 28, "shape": "triangle-up", "clip": true},
"encoding": {
"x": {"field": "V", "type": "quantitative", "axis": null},
"y": {"field": "J", "type": "quantitative", "axis": null}
}},
{"data": {"values": [{}]},
"mark": {"type": "text", "fontSize": 20, "fontWeight": "bold", "font": "Liberation Sans", "align": "center", "baseline": "alphabetic"},
"encoding": {
"x": {"datum": -0.415, "type": "quantitative", "axis": {"orient": "bottom", "title": null, "labels": false, "values": [-0.4,-0.2,0,0.2,0.4,0.6,0.8,1], "tickSize": -4}},
"y": {"datum": 0.0243, "type": "quantitative", "axis": {"orient": "right", "title": null, "labels": false, "values": [-0.03,-0.02,-0.01,0,0.01,0.02,0.03], "tickSize": -4}},
"text": {"value": "d"}, "color": {"value": "#000000"}
}}
]
}
],
"config": {
"view": {"stroke": "#000000", "strokeWidth": 1},
"font": "Liberation Sans",
"axis": {"grid": false, "domain": false, "tickColor": "#000000", "tickWidth": 1, "labelColor": "#000000", "titleColor": "#000000", "labelFont": "Liberation Sans", "titleFont": "Liberation Sans", "labelFontSize": 14, "titleFontSize": 14, "titleFontWeight": "normal", "labelFlush": false, "labelOverlap": false, "labelPadding": 5, "titlePadding": 6},
"legend": {"labelFont": "Liberation Sans", "labelFontSize": 13, "labelColor": "#000000", "symbolSize": 400, "rowPadding": 1, "padding": 0}
}
}
